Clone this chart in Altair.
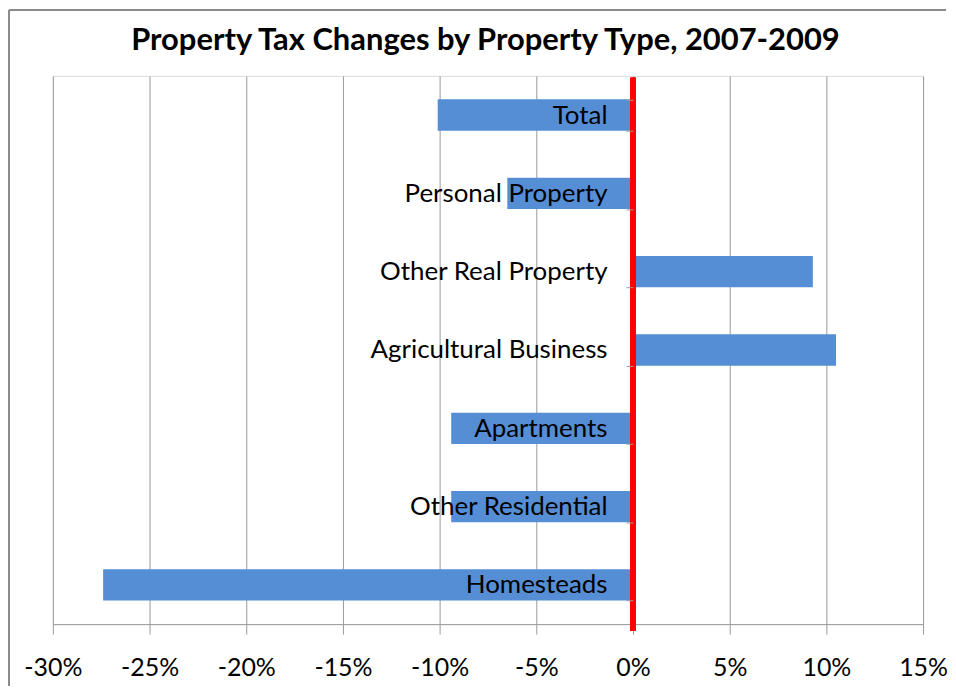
import altair as alt
import pandas as pd

categories = ["Total", "Personal Property", "Other Real Property",
              "Agricultural Business", "Apartments", "Other Residential",
              "Homesteads"]
values = [-10.1, -6.5, 9.3, 10.5, -9.4, -9.4, -27.4]
x_ticks = [-30, -25, -20, -15, -10, -5, 0, 5, 10, 15]
title_text = "Property Tax Changes by Property Type, 2007-2009"

df = pd.DataFrame({"category": categories, "value": values})

W, H = 873, 550
FONT = "Lato"

xscale = alt.Scale(domain=[-30, 15], nice=False, zero=False)

bars = alt.Chart(df).mark_bar(color="#558ED5").encode(
    x=alt.X("value:Q", scale=xscale, title=None,
            axis=alt.Axis(values=x_ticks, labelExpr="datum.value + '%'",
                          grid=True, gridColor="#9a9a9a", gridWidth=1,
                          domainColor="#9a9a9a", tickColor="#9a9a9a",
                          tickSize=10, labelPadding=22, labelFontSize=25,
                          labelFont=FONT, labelColor="black",
                          labelFlush=False, labelOverlap=False)),
    y=alt.Y("category:N", sort=categories, title=None,
            scale=alt.Scale(paddingInner=0.6, paddingOuter=0.3),
            axis=alt.Axis(orient="left", offset=-582, domain=False,
                          ticks=True, tickBand="extent", tickColor="#9a9a9a",
                          tickSize=7, labelPadding=19, labelFontSize=26,
                          labelFont=FONT, labelColor="black", zindex=1,
                          labelAlign="right", labelLimit=500)),
)

zero_line = alt.Chart(df).mark_rule(color="#FF0000", strokeWidth=5).encode(
    x=alt.datum(0, scale=xscale),
    y=alt.value(2),
    y2=alt.value(557),
)

top_border = alt.Chart(df).mark_rule(color="#8a8a8a", strokeWidth=1.5).encode(
    x=alt.value(-44), x2=alt.value(896), y=alt.value(-66)
)
left_border = alt.Chart(df).mark_rule(color="#8a8a8a", strokeWidth=1.5).encode(
    x=alt.value(-44), y=alt.value(-66), y2=alt.value(612)
)

title = alt.Chart(pd.DataFrame({"t": [title_text]})).mark_text(
    font=FONT, fontSize=31, fontWeight="bold", color="black",
    align="center", baseline="alphabetic"
).encode(text="t:N", x=alt.value(434), y=alt.value(-26))

chart = alt.layer(bars, zero_line, top_border, left_border, title).properties(
    width=W, height=H, padding=0,
).configure_view(stroke=None).configure(background="white")

chart.save("out.html", embed_options={"renderer": "svg", "actions": False})
